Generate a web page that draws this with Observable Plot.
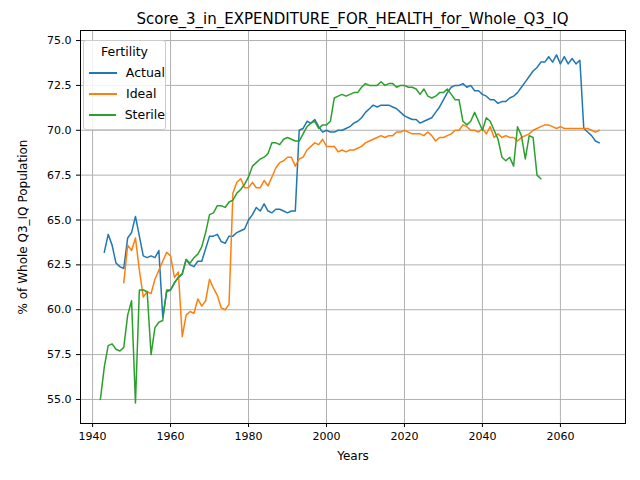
<!DOCTYPE html>
<html><head><meta charset="utf-8">
<script src="https://cdn.jsdelivr.net/npm/d3@7"></script>
<script src="https://cdn.jsdelivr.net/npm/@observablehq/plot@0.6"></script>
<style>
body{margin:0;background:#fff;font-family:"DejaVu Sans",sans-serif;}
#wrap{position:relative;width:640px;height:480px;}
#title{position:absolute;left:80px;width:545px;top:10px;text-align:center;font-size:15px;}
#chart{position:absolute;left:0;top:30px;}
#legend{position:absolute;left:83px;top:40px;width:81px;border:1px solid #ccc;border-radius:3px;background:rgba(255,255,255,0.85);font-size:12.5px;padding:3px 0 4px 0;}
#legend .t{text-align:center;margin-bottom:3px;}
#legend .r{display:flex;align-items:center;height:21px;}
#legend .s{width:28px;height:2px;margin:0 9px 0 5px;}
</style></head>
<body><div id="wrap"><div id="title">Score_3_in_EXPENDITURE_FOR_HEALTH_for_Whole_Q3_IQ</div><div id="chart"></div>
<div id="legend"><div class="t">Fertility</div>
<div class="r"><div class="s" style="background:#1f77b4"></div>Actual</div>
<div class="r"><div class="s" style="background:#ff7f0e"></div>Ideal</div>
<div class="r"><div class="s" style="background:#2ca02c"></div>Sterile</div></div></div>
<script>
const actualStart = 1943;
const actual = [63.2,64.2,63.6,62.6,62.4,62.3,64.0,64.3,65.2,64.1,63.0,62.9,63.0,62.9,63.3,59.6,61.0,61.1,61.5,61.8,62.0,62.8,62.5,62.4,62.7,62.7,63.4,64.1,64.1,64.2,63.8,63.7,64.1,64.1,64.3,64.4,64.5,65.0,65.3,65.7,65.5,65.9,65.5,65.4,65.6,65.6,65.5,65.4,65.5,65.5,70.0,70.1,70.5,70.4,70.6,70.2,69.9,70.0,69.9,69.9,70.0,70.0,70.1,70.2,70.4,70.5,70.7,71.0,71.2,71.4,71.3,71.4,71.4,71.4,71.3,71.2,71.0,70.8,70.7,70.6,70.6,70.4,70.5,70.6,70.7,71.0,71.3,71.7,72.1,72.4,72.5,72.5,72.6,72.4,72.5,72.2,72.2,72.0,71.9,71.7,71.7,71.5,71.6,71.6,71.8,71.9,72.1,72.4,72.7,73.0,73.3,73.5,73.8,73.8,74.1,73.8,74.2,73.7,74.1,73.7,74.0,73.7,73.9,70.1,69.9,69.7,69.4,69.3];
const idealStart = 1948;
const ideal = [61.5,63.6,63.3,64.0,62.2,60.7,61.0,60.9,61.7,62.2,62.7,63.2,63.0,61.8,62.1,58.5,59.7,59.9,59.8,60.6,60.2,60.5,61.7,61.2,60.8,60.1,60.0,60.3,66.5,67.1,67.3,66.8,66.8,67.1,66.8,66.8,67.2,66.9,67.4,67.9,68.2,68.3,68.5,68.5,68.0,68.4,68.5,68.9,69.1,69.3,69.2,69.5,69.1,69.1,69.1,68.8,68.9,68.8,68.9,68.9,69.0,69.1,69.3,69.4,69.5,69.6,69.7,69.6,69.7,69.7,69.9,69.9,70.0,69.9,69.8,69.8,69.8,69.7,69.9,69.7,69.4,69.6,69.6,69.7,69.8,70.0,70.0,70.3,70.2,70.0,70.0,69.9,70.1,69.8,70.2,69.6,69.8,69.6,69.7,69.6,69.6,69.4,69.6,69.7,69.8,70.0,70.1,70.2,70.3,70.3,70.2,70.1,70.2,70.1,70.1,70.1,70.1,70.1,70.1,70.1,70.0,69.9,70.0];
const sterileStart = 1942;
const sterile = [55.0,56.8,58.0,58.1,57.8,57.7,57.9,59.7,60.5,54.8,61.1,61.1,61.0,57.5,59.0,59.3,59.4,61.1,61.1,61.5,61.8,62.0,62.8,62.6,62.9,63.1,63.5,64.3,65.3,65.4,65.8,65.8,65.7,66.0,66.1,66.5,66.7,67.0,67.4,68.0,68.2,68.4,68.5,68.7,69.3,69.3,69.2,69.5,69.6,69.5,69.4,69.4,69.8,70.2,70.4,70.5,70.1,70.3,70.3,70.5,71.8,71.9,72.0,71.9,72.0,72.1,72.1,72.4,72.6,72.5,72.5,72.5,72.7,72.5,72.6,72.6,72.4,72.5,72.5,72.4,72.4,72.3,72.0,72.3,71.9,71.8,71.9,72.1,72.1,72.3,72.0,71.7,71.7,70.5,70.3,70.5,71.0,70.5,70.0,70.7,70.5,70.0,69.5,68.5,68.3,68.5,68.0,70.2,69.7,68.4,69.7,69.6,67.5,67.3];

const rows = (vals, start, name) => vals.map((v, i) => ({year: start + i, value: v, series: name}));
const data = [...rows(actual, actualStart, "Actual"), ...rows(ideal, idealStart, "Ideal"), ...rows(sterile, sterileStart, "Sterile")];

const xTicks = [1940, 1960, 1980, 2000, 2020, 2040, 2060];
const yTicks = d3.range(55, 75.1, 2.5);

const chart = Plot.plot({
  width: 640,
  height: 450,
  marginLeft: 80,
  marginRight: 15,
  marginTop: 0,
  marginBottom: 57,
  style: {fontFamily: "DejaVu Sans", fontSize: "11px", color: "#000"},
  x: {domain: [1936.9, 2076.7]},
  y: {domain: [53.66, 75.56]},
  color: {domain: ["Actual", "Ideal", "Sterile"], range: ["#1f77b4", "#ff7f0e", "#2ca02c"]},
  marks: [
    Plot.gridX(xTicks, {stroke: "#b0b0b0", strokeOpacity: 1}),
    Plot.gridY(yTicks, {stroke: "#b0b0b0", strokeOpacity: 1}),
    Plot.axisX(xTicks, {tickFormat: "d", tickSize: 4, label: null}),
    Plot.axisY(yTicks, {tickFormat: ".1f", tickSize: 4, label: null}),
    Plot.axisX({ticks: [], label: "Years", labelAnchor: "center", labelArrow: "none", labelOffset: 36, fontSize: 12}),
    Plot.axisY({ticks: [], label: "% of Whole Q3_IQ Population", labelAnchor: "center", labelArrow: "none", labelOffset: 62, fontSize: 12}),
    Plot.line(data, {x: "year", y: "value", z: "series", stroke: "series", strokeWidth: 1.5}),
    Plot.frame({stroke: "#000"})
  ]
});
document.getElementById("chart").appendChild(chart);
</script></body></html>
